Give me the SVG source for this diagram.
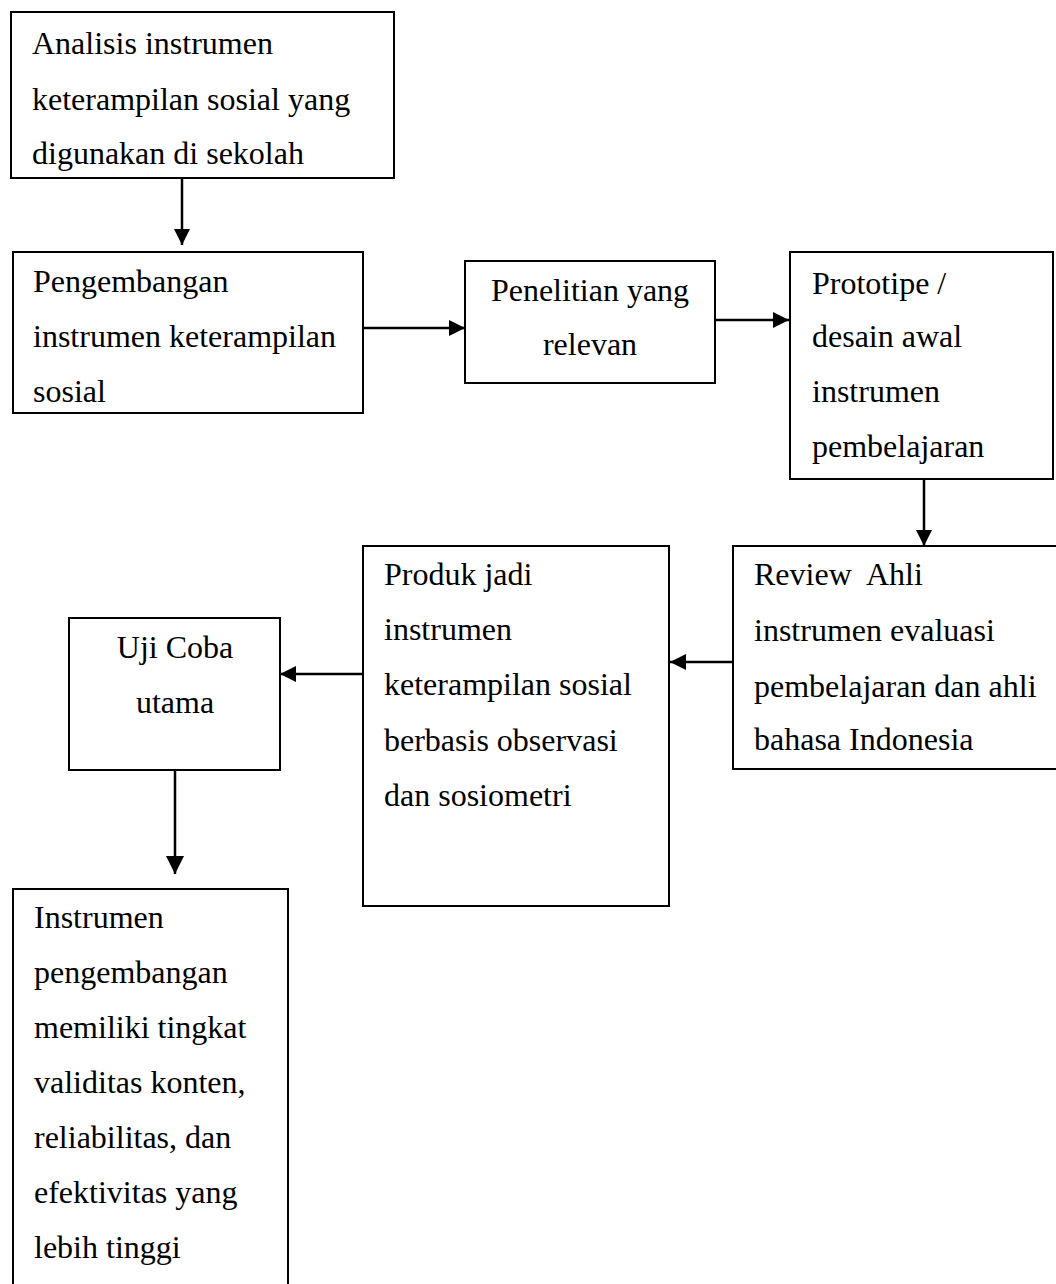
<svg xmlns="http://www.w3.org/2000/svg" width="1056" height="1284" viewBox="0 0 1056 1284">
<style>
.box{fill:#fff;stroke:#000;stroke-width:2}
.t{font-family:"Liberation Serif","Times New Roman",serif;font-size:32px;fill:#000}
.c{text-anchor:middle}
.ln{stroke:#000;stroke-width:2.5;fill:none}
</style>
<defs>
<marker id="ah" markerUnits="userSpaceOnUse" markerWidth="18" markerHeight="16" refX="16" refY="8" orient="auto">
<path d="M0,0 L16,8 L0,16 z" fill="#000"/>
</marker>
<marker id="ahb" markerUnits="userSpaceOnUse" markerWidth="20" markerHeight="18" refX="18" refY="9" orient="auto">
<path d="M0,0 L18,9 L0,18 z" fill="#000"/>
</marker>
</defs>
<rect width="1056" height="1284" fill="#fff"/>
<g id="connectors">
<line class="ln" x1="182" y1="178" x2="182" y2="245" marker-end="url(#ah)"/>
<line class="ln" x1="363" y1="328" x2="465" y2="328" marker-end="url(#ah)"/>
<line class="ln" x1="715" y1="320" x2="789" y2="320" marker-end="url(#ah)"/>
<line class="ln" x1="924" y1="479" x2="924" y2="546" marker-end="url(#ah)"/>
<line class="ln" x1="733" y1="662" x2="670" y2="662" marker-end="url(#ah)"/>
<line class="ln" x1="363" y1="674" x2="280" y2="674" marker-end="url(#ah)"/>
<line class="ln" x1="175" y1="770" x2="175" y2="874" stroke-width="3" marker-end="url(#ahb)"/>
</g>
<g id="n1">
<rect class="box" x="11" y="12" width="383" height="166"/>
<text class="t" x="32" y="54">Analisis instrumen</text>
<text class="t" x="32" y="110">keterampilan sosial yang</text>
<text class="t" x="32" y="164">digunakan di sekolah</text>
</g>
<g id="n2">
<rect class="box" x="13" y="252" width="350" height="161"/>
<text class="t" x="33" y="292">Pengembangan</text>
<text class="t" x="33" y="347">instrumen keterampilan</text>
<text class="t" x="33" y="402">sosial</text>
</g>
<g id="n3">
<rect class="box" x="465" y="261" width="250" height="122"/>
<text class="t c" x="590" y="301">Penelitian yang</text>
<text class="t c" x="590" y="355">relevan</text>
</g>
<g id="n4">
<rect class="box" x="790" y="252" width="263" height="227"/>
<text class="t" x="812" y="294">Prototipe /</text>
<text class="t" x="812" y="347">desain awal</text>
<text class="t" x="812" y="402">instrumen</text>
<text class="t" x="812" y="457">pembelajaran</text>
</g>
<g id="n5">
<rect class="box" x="733" y="546" width="330" height="223"/>
<text class="t" x="754" y="585" xml:space="preserve" style="white-space:pre">Review  Ahli</text>
<text class="t" x="754" y="641">instrumen evaluasi</text>
<text class="t" x="754" y="697">pembelajaran dan ahli</text>
<text class="t" x="754" y="750">bahasa Indonesia</text>
</g>
<g id="n6">
<rect class="box" x="363" y="546" width="306" height="360"/>
<text class="t" x="384" y="585">Produk jadi</text>
<text class="t" x="384" y="640">instrumen</text>
<text class="t" x="384" y="695">keterampilan sosial</text>
<text class="t" x="384" y="751">berbasis observasi</text>
<text class="t" x="384" y="806">dan sosiometri</text>
</g>
<g id="n7">
<rect class="box" x="69" y="618" width="211" height="152"/>
<text class="t c" x="175" y="658">Uji Coba</text>
<text class="t c" x="175" y="713">utama</text>
</g>
<g id="n8">
<rect class="box" x="13" y="889" width="275" height="420"/>
<text class="t" x="34" y="928">Instrumen</text>
<text class="t" x="34" y="983">pengembangan</text>
<text class="t" x="34" y="1038">memiliki tingkat</text>
<text class="t" x="34" y="1093">validitas konten,</text>
<text class="t" x="34" y="1148">reliabilitas, dan</text>
<text class="t" x="34" y="1203">efektivitas yang</text>
<text class="t" x="34" y="1258">lebih tinggi</text>
</g>
</svg>
